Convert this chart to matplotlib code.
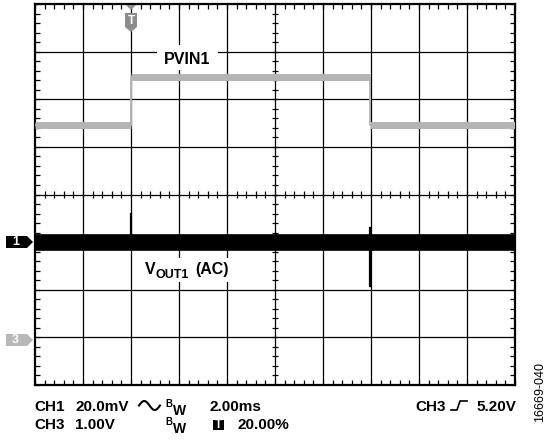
import numpy as np
import matplotlib.pyplot as plt
from matplotlib.patches import Polygon, Rectangle
from matplotlib.lines import Line2D
from matplotlib.ticker import MultipleLocator

plt.rcParams['font.family'] = ['Liberation Sans', 'DejaVu Sans']

W, H = 547, 442

# scope settings
time_per_div = 2.0     # ms/div
trig_pos = 0.20        # trigger position (fraction of screen)
ch1_scale = 20.0       # mV/div
ch1_pos = 3.0          # CH1 ground, divisions from bottom
ch3_scale = 1.0        # V/div
ch3_pos = 1.0          # CH3 ground, divisions from bottom

# CH3: PVIN1 (V) vs time (ms)
pvin_t = [-4.0, 0.0, 0.0, 9.95, 9.95, 16.0]
pvin_v = [4.46, 4.46, 5.47, 5.47, 4.46, 4.46]

# CH1: VOUT1 (AC), mV
vout_t = [-4.0, 16.0]
vout_v = [0.0, 0.0]
spike_t = [[0.0, 0.0], [9.95, 9.95]]
spike_v = [[0.0, 12.0], [6.0, -18.5]]

t_left = -trig_pos * 10 * time_per_div


def xdiv(t):
    return (np.asarray(t) - t_left) / time_per_div


def ch1(v):
    return np.asarray(v) / ch1_scale + ch1_pos


def ch3(v):
    return np.asarray(v) / ch3_scale + ch3_pos


def px(x, y):
    return x / W, 1 - y / H


fig = plt.figure(figsize=(W / 100, H / 100), dpi=100)
ax = fig.add_axes([35 / W, (H - 385) / H, 480 / W, 381 / H])
ax.set_xlim(0, 10)
ax.set_ylim(0, 8)

# graticule
for x in range(1, 10):
    ax.axvline(x, color='black', lw=0.9, zorder=1)
for y in range(1, 8):
    ax.axhline(y, color='black', lw=0.9, zorder=1)
minor = np.arange(0.2, 10, 0.2)
ax.vlines(minor, 4 - 0.065, 4 + 0.065, color='black', lw=0.9, zorder=1)
minor_y = np.arange(0.2, 8, 0.2)
ax.hlines(minor_y, 5 - 0.065, 5 + 0.065, color='black', lw=0.9, zorder=1)
ax.xaxis.set_major_locator(MultipleLocator(0.2))
ax.yaxis.set_major_locator(MultipleLocator(0.2))
ax.tick_params(direction='in', length=3.5, width=0.9, top=True, right=True,
               labelbottom=False, labelleft=False)
for s in ax.spines.values():
    s.set_linewidth(1.6)

# PVIN1 trace
gray = '#b4b4b4'
ax.plot(xdiv(pvin_t), ch3(pvin_v), color=gray, lw=1.4, zorder=3)
for i in range(0, len(pvin_t), 2):
    ax.plot(xdiv(pvin_t[i:i + 2]), ch3(pvin_v[i:i + 2]), color=gray, lw=5,
            solid_capstyle='butt', zorder=3)

# VOUT1 trace
ax.plot(xdiv(vout_t), ch1(vout_v), color='black', lw=12,
        solid_capstyle='butt', zorder=4)
for st, sv in zip(spike_t, spike_v):
    ax.plot(xdiv(st), ch1(sv), color='black', lw=1.6, zorder=4)

# trace labels (white patches break the graticule like the scope does)
fig.add_artist(Rectangle(px(157, 70), 61 / W, 25 / H, transform=fig.transFigure,
                         facecolor='white', edgecolor='none', zorder=1))
fig.text(*px(187.5, 64), 'PVIN1', ha='center', va='baseline', fontsize=11.5,
         fontweight='bold', zorder=3)
fig.add_artist(Rectangle(px(143, 282), 90 / W, 24 / H, transform=fig.transFigure,
                         facecolor='white', edgecolor='none', zorder=1))
fig.text(*px(144.5, 274), 'V', fontsize=11.5, fontweight='bold', va='baseline',
         zorder=3)
fig.text(*px(156, 277.5), 'OUT1', fontsize=9, fontweight='bold', va='baseline',
         zorder=3)
fig.text(*px(195, 274), '(AC)', fontsize=11.5, fontweight='bold', va='baseline',
         zorder=3)

# channel markers on the left
def chan_marker(yc, color, label):
    pts = [px(6, yc - 6), px(27, yc - 6), px(33, yc), px(27, yc + 6), px(6, yc + 6)]
    fig.add_artist(Polygon(pts, closed=True, transform=fig.transFigure,
                           facecolor=color, edgecolor='none'))
    fig.text(*px(15.5, yc), label, color='white', fontsize=9, fontweight='bold',
             ha='center', va='center')

chan_marker(242, 'black', '1')
chan_marker(340, '#b8b8b8', '3')

# trigger marker on top
tx = 35 + 48 * xdiv(0.0)
fig.add_artist(Polygon([px(tx - 5, 5), px(tx + 5, 5), px(tx, 10)], closed=True,
                       transform=fig.transFigure, facecolor='#8c8c8c',
                       edgecolor='none'))
fig.add_artist(Polygon([px(tx - 6, 13), px(tx + 6, 13), px(tx + 6, 27),
                        px(tx, 32), px(tx - 6, 27)], closed=True,
                       transform=fig.transFigure, facecolor='#8c8c8c',
                       edgecolor='none'))
fig.text(*px(tx, 20.5), 'T', color='white', fontsize=8.5, fontweight='bold',
         ha='center', va='center')

# settings readout
fs = 11
r1, r2 = 411, 429


def readout(x, y, s, **kw):
    kw.setdefault('fontsize', fs)
    fig.text(*px(x, y), s, fontweight='bold', va='baseline', **kw)


readout(34, r1, 'CH1')
readout(75, r1, '20.0mV')
readout(34, r2, 'CH3')
readout(75, r2, '1.00V')
readout(210, r1, '2.00ms')
readout(238, r2, '20.00%')
readout(516, r1, '5.20V', ha='right')
readout(415, r1, 'CH3')
for yb in (r1, r2):
    readout(165.5, yb - 4, 'B', fontsize=7)
    readout(173, yb + 4, 'W', fontsize=10)

# AC coupling symbol
s = np.linspace(0, 2 * np.pi, 40)
fig.add_artist(Line2D((139 + 21 * s / (2 * np.pi)) / W,
                      1 - (405.5 - 4.5 * np.sin(s)) / H,
                      transform=fig.transFigure, color='black', lw=1.5))
# rising-edge trigger symbol
fig.add_artist(Line2D(np.array([451, 457, 460, 467]) / W,
                      1 - np.array([410, 410, 401, 401]) / H,
                      transform=fig.transFigure, color='black', lw=1.2))
# trigger position box
fig.add_artist(Rectangle(px(213, 430), 11 / W, 10 / H, transform=fig.transFigure,
                         facecolor='black', edgecolor='none'))
fig.text(*px(218.5, 425), 'T', color='white', fontsize=8.5, fontweight='bold',
         ha='center', va='center')

fig.text(*px(540, 392), '16669-040', rotation=90, fontsize=9,
         ha='center', va='center')

fig.savefig('out.png', dpi=100)
